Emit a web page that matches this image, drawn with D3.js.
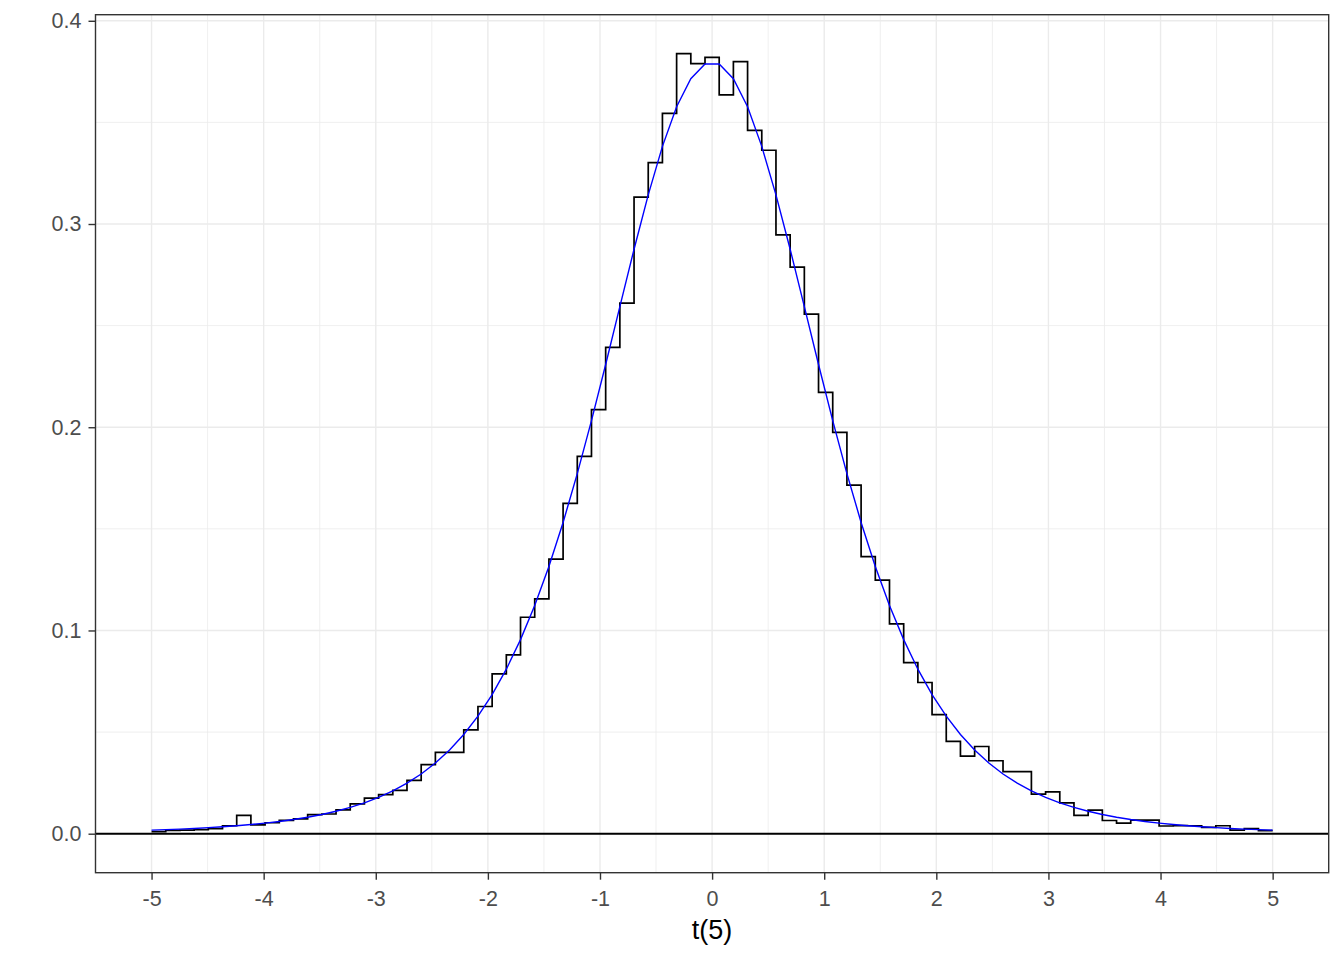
<!DOCTYPE html>
<html>
<head>
<meta charset="utf-8">
<script src="https://cdn.jsdelivr.net/npm/d3@7"></script>
<style>
html,body{margin:0;padding:0;background:#fff;}
svg{display:block;}
</style>
</head>
<body>
<svg id="chart" width="1344" height="960"></svg>
<script>
// Histogram density (step line) at 80 bin centres spanning -5..5
const histDensity = [
  0.0010,0.0016,0.0018,0.0020,0.0025,0.0039,0.0090,0.0043,0.0054,0.0066,
  0.0073,0.0094,0.0097,0.0117,0.0147,0.0175,0.0192,0.0213,0.0262,0.0340,
  0.0400,0.0400,0.0511,0.0626,0.0786,0.0880,0.1065,0.1155,0.1351,0.1625,
  0.1857,0.2087,0.2393,0.2611,0.3132,0.3302,0.3544,0.3838,0.3789,0.3820,
  0.3635,0.3799,0.3461,0.3363,0.2947,0.2788,0.2557,0.2172,0.1975,0.1715,
  0.1363,0.1248,0.1032,0.0842,0.0744,0.0586,0.0454,0.0382,0.0429,0.0359,
  0.0305,0.0305,0.0195,0.0206,0.0152,0.0090,0.0116,0.0065,0.0052,0.0067,
  0.0067,0.0038,0.0040,0.0039,0.0031,0.0039,0.0018,0.0025,0.0015,0.0015
];
// Theoretical t(5) density at the same centres (blue line)
const densityHalf = [
  0.37870,0.37151,0.35768,0.33820,0.31435,0.28760,0.25936,0.23088,0.20324,0.17715,
  0.15316,0.13151,0.11232,0.09551,0.08095,0.06847,0.05782,0.04880,0.04119,0.03477,
  0.02938,0.02485,0.02105,0.01786,0.01519,0.01294,0.01105,0.00946,0.00812,0.00698,
  0.00602,0.00520,0.00450,0.00391,0.00340,0.00297,0.00259,0.00227,0.00200,0.00176
];
const tDensity = densityHalf.slice().reverse().concat(densityHalf);
const xMin = -5, xMax = 5;
const binCentres = histDensity.map((_, i) => xMin + i * (xMax - xMin) / (histDensity.length - 1));
const xTicks = [-5,-4,-3,-2,-1,0,1,2,3,4,5];
const xTickLabels = ["-5","-4","-3","-2","-1","0","1","2","3","4","5"];
const xMinor = [-4.5,-3.5,-2.5,-1.5,-0.5,0.5,1.5,2.5,3.5,4.5];
const yTicks = [0.0,0.1,0.2,0.3,0.4];
const yTickLabels = ["0.0","0.1","0.2","0.3","0.4"];
const yMinor = [0.05,0.15,0.25,0.35];
const xTitle = "t(5)";

const svg = d3.select("#chart");
const panel = {left: 95.5, right: 1328.7, top: 14.7, bottom: 872.7};

const xSpan = xMax - xMin;
const x = d3.scaleLinear()
  .domain([xMin - 0.05 * xSpan, xMax + 0.05 * xSpan])
  .range([panel.left, panel.right]);
const yMaxData = d3.max(histDensity.concat(tDensity));
const ySpan = yMaxData - 0;
const y = d3.scaleLinear()
  .domain([0 - 0.05 * ySpan, yMaxData + 0.05 * ySpan])
  .range([panel.bottom, panel.top]);

// background
svg.append("rect").attr("x", panel.left).attr("y", panel.top)
  .attr("width", panel.right - panel.left).attr("height", panel.bottom - panel.top)
  .attr("fill", "#fff");

const grid = svg.append("g");
grid.selectAll(".xminor").data(xMinor).enter().append("line")
  .attr("x1", d => x(d)).attr("x2", d => x(d))
  .attr("y1", panel.top).attr("y2", panel.bottom)
  .attr("stroke", "#EBEBEB").attr("stroke-width", 0.8);
grid.selectAll(".yminor").data(yMinor).enter().append("line")
  .attr("y1", d => y(d)).attr("y2", d => y(d))
  .attr("x1", panel.left).attr("x2", panel.right)
  .attr("stroke", "#EBEBEB").attr("stroke-width", 0.8);
grid.selectAll(".xmajor").data(xTicks).enter().append("line")
  .attr("x1", d => x(d)).attr("x2", d => x(d))
  .attr("y1", panel.top).attr("y2", panel.bottom)
  .attr("stroke", "#EBEBEB").attr("stroke-width", 1.4);
grid.selectAll(".ymajor").data(yTicks).enter().append("line")
  .attr("y1", d => y(d)).attr("y2", d => y(d))
  .attr("x1", panel.left).attr("x2", panel.right)
  .attr("stroke", "#EBEBEB").attr("stroke-width", 1.4);

// horizontal zero line
svg.append("line")
  .attr("x1", panel.left).attr("x2", panel.right)
  .attr("y1", y(0)).attr("y2", y(0))
  .attr("stroke", "#000").attr("stroke-width", 2);

// histogram step line
const stepLine = d3.line()
  .x((d, i) => x(binCentres[i]))
  .y(d => y(d))
  .curve(d3.curveStepAfter);
svg.append("path").datum(histDensity)
  .attr("d", stepLine)
  .attr("fill", "none").attr("stroke", "#000").attr("stroke-width", 1.7);

// theoretical density
const densLine = d3.line()
  .x((d, i) => x(binCentres[i]))
  .y(d => y(d));
svg.append("path").datum(tDensity)
  .attr("d", densLine)
  .attr("fill", "none").attr("stroke", "#0000FF").attr("stroke-width", 1.4);

// panel border
svg.append("rect").attr("x", panel.left).attr("y", panel.top)
  .attr("width", panel.right - panel.left).attr("height", panel.bottom - panel.top)
  .attr("fill", "none").attr("stroke", "#333333").attr("stroke-width", 1.4);

// axes
const font = "'Liberation Sans', Arial, sans-serif";
const xAxis = d3.axisBottom(x).tickValues(xTicks).tickSize(7).tickPadding(4)
  .tickFormat((d, i) => xTickLabels[i]);
const gx = svg.append("g").attr("transform", `translate(0,${panel.bottom})`).call(xAxis);
gx.select(".domain").remove();
gx.selectAll(".tick line").attr("stroke", "#333333").attr("stroke-width", 1.4);
gx.selectAll(".tick text").attr("fill", "#4D4D4D")
  .style("font-family", font).style("font-size", "21.5px")
  .attr("dy", null).attr("y", 33);

const yAxis = d3.axisLeft(y).tickValues(yTicks).tickSize(7).tickPadding(7)
  .tickFormat((d, i) => yTickLabels[i]);
const gy = svg.append("g").attr("transform", `translate(${panel.left},0)`).call(yAxis);
gy.select(".domain").remove();
gy.selectAll(".tick line").attr("stroke", "#333333").attr("stroke-width", 1.4);
gy.selectAll(".tick text").attr("fill", "#4D4D4D")
  .style("font-family", font).style("font-size", "21.5px");

svg.append("text")
  .attr("x", (panel.left + panel.right) / 2)
  .attr("y", 939)
  .attr("text-anchor", "middle")
  .style("font-family", font).style("font-size", "27px")
  .attr("fill", "#000")
  .text(xTitle);
</script>
</body>
</html>
